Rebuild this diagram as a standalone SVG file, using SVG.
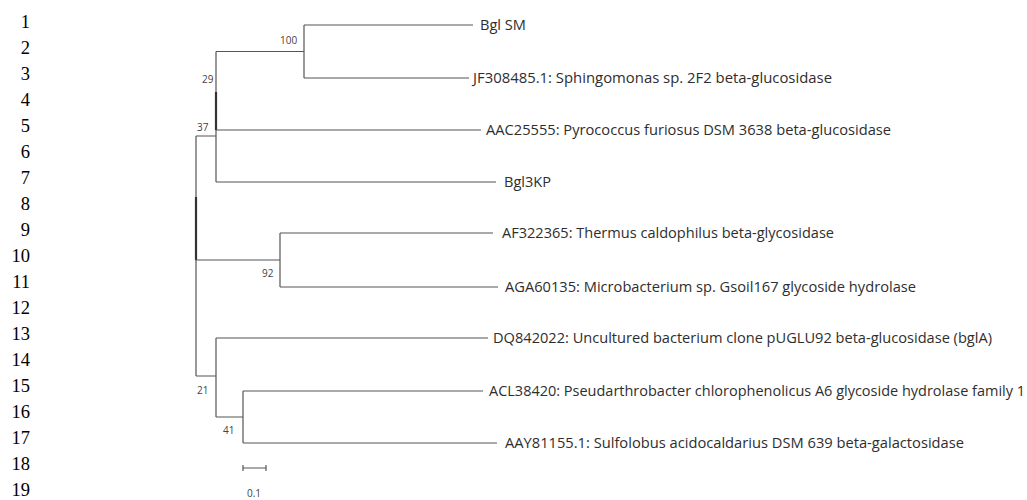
<svg xmlns="http://www.w3.org/2000/svg" width="1027" height="500" viewBox="0 0 1027 500">
<style>
.ln{font-family:"Liberation Serif","Times New Roman",serif;font-size:18.5px;fill:#000;text-anchor:end}
.leaf{font-family:"Open Sans","Liberation Sans",sans-serif;font-size:14px;fill:#2e2e2e}
.bs{font-family:"Open Sans","Liberation Sans",sans-serif;font-size:10px;fill:#444}
.br{fill:none;stroke:#555;stroke-width:1.2}
.thick{fill:none;stroke:#333;stroke-width:2.2}
</style>
<rect width="1027" height="500" fill="#fff"/>
<g id="line-numbers">
<text class="ln" x="30" y="28">1</text>
<text class="ln" x="30" y="54">2</text>
<text class="ln" x="30" y="80">3</text>
<text class="ln" x="30" y="106">4</text>
<text class="ln" x="30" y="132">5</text>
<text class="ln" x="30" y="158">6</text>
<text class="ln" x="30" y="184">7</text>
<text class="ln" x="30" y="210">8</text>
<text class="ln" x="30" y="236">9</text>
<text class="ln" x="30" y="262">10</text>
<text class="ln" x="30" y="288">11</text>
<text class="ln" x="30" y="314">12</text>
<text class="ln" x="30" y="340">13</text>
<text class="ln" x="30" y="366">14</text>
<text class="ln" x="30" y="392">15</text>
<text class="ln" x="30" y="418">16</text>
<text class="ln" x="30" y="444">17</text>
<text class="ln" x="30" y="470">18</text>
<text class="ln" x="30" y="496">19</text>
</g>
<g id="connectors">
<path class="br" d="M196 136V376"/>
<path class="thick" d="M196 197V260"/>
<path class="br" d="M196 136H216M216 51.5V182"/>
<path class="thick" d="M216 92V130"/>
<path class="br" d="M216 51.5H304M304 25V78"/>
<path class="br" d="M304 25H473M304 78H469"/>
<path class="br" d="M216 130H481M216 182H496"/>
<path class="br" d="M196 260H280M280 233V287M280 233H493M280 287H498"/>
<path class="br" d="M196 376H216M216 338V417M216 338H488"/>
<path class="br" d="M216 417H243M243 391V443M243 391H483M243 443H497"/>
</g>
<g id="leaf-bglsm"><text class="leaf" x="480" y="30" textLength="46" lengthAdjust="spacingAndGlyphs">Bgl SM</text></g>
<g id="leaf-jf308485"><text class="leaf" x="473" y="83" textLength="359" lengthAdjust="spacingAndGlyphs">JF308485.1: Sphingomonas sp. 2F2 beta-glucosidase</text></g>
<g id="leaf-aac25555"><text class="leaf" x="486" y="135" textLength="405" lengthAdjust="spacingAndGlyphs">AAC25555: Pyrococcus furiosus DSM 3638 beta-glucosidase</text></g>
<g id="leaf-bgl3kp"><text class="leaf" x="504" y="187" textLength="47" lengthAdjust="spacingAndGlyphs">Bgl3KP</text></g>
<g id="leaf-af322365"><text class="leaf" x="502" y="238" textLength="332" lengthAdjust="spacingAndGlyphs">AF322365: Thermus caldophilus beta-glycosidase</text></g>
<g id="leaf-aga60135"><text class="leaf" x="505" y="292" textLength="411" lengthAdjust="spacingAndGlyphs">AGA60135: Microbacterium sp. Gsoil167 glycoside hydrolase</text></g>
<g id="leaf-dq842022"><text class="leaf" x="493" y="343" textLength="499" lengthAdjust="spacingAndGlyphs">DQ842022: Uncultured bacterium clone pUGLU92 beta-glucosidase (bglA)</text></g>
<g id="leaf-acl38420"><text class="leaf" x="489" y="396" textLength="536" lengthAdjust="spacingAndGlyphs">ACL38420: Pseudarthrobacter chlorophenolicus A6 glycoside hydrolase family 1</text></g>
<g id="leaf-aay81155"><text class="leaf" x="505" y="448" textLength="459" lengthAdjust="spacingAndGlyphs">AAY81155.1: Sulfolobus acidocaldarius DSM 639 beta-galactosidase</text></g>
<g id="node-100"><text class="bs" x="280" y="44">100</text></g>
<g id="node-29"><text class="bs" x="202" y="83">29</text></g>
<g id="node-37"><text class="bs" x="197" y="131">37</text></g>
<g id="node-92"><text class="bs" x="262" y="277">92</text></g>
<g id="node-21"><text class="bs" x="197" y="394">21</text></g>
<g id="node-41"><text class="bs" x="223" y="434">41</text></g>
<g id="scale-bar">
<path class="br" d="M243 468H266M243 465V471M266 465V471"/>
<text class="bs" x="247" y="497">0.1</text>
</g>
</svg>
